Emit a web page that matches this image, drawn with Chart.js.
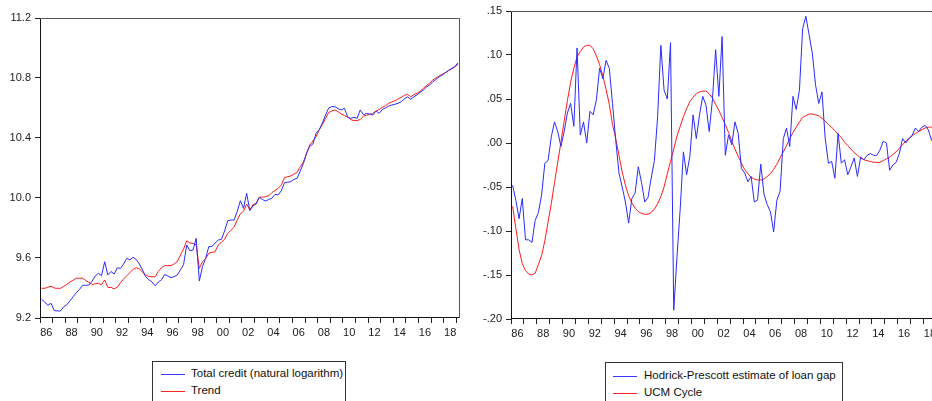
<!DOCTYPE html>
<html>
<head>
<meta charset="utf-8">
<script src="https://cdn.jsdelivr.net/npm/chart.js@4.4.1/dist/chart.umd.min.js"></script>
<style>
  html, body { margin: 0; padding: 0; width: 932px; height: 401px; overflow: hidden; background: #fff; }
  canvas { position: absolute; top: 0; }
  #creditChart { left: 0; }
  #gapChart { left: 466px; }
  .legend { position: absolute; border: 1px solid #333; background: #fff; }
  .legend .row { position: absolute; height: 14px; line-height: 14px; white-space: nowrap;
                 font: 11.5px "Liberation Sans", Arial, sans-serif; color: #111; }
  .legend .swatch { position: absolute; top: 7px; width: 24px; height: 0; border-top: 1px solid; }
  .legend .label { position: absolute; top: 0; }
</style>
</head>
<body>
<canvas id="creditChart" width="466" height="345"></canvas>
<canvas id="gapChart" width="480" height="345"></canvas>

<div class="legend" style="left:152px; top:361px; width:192px; height:60px;">
  <div class="row" style="left:8px; top:5px;"><span class="swatch" style="border-color:#3a3aff;"></span><span class="label" style="left:30px;">Total credit (natural logarithm)</span></div>
  <div class="row" style="left:8px; top:22px;"><span class="swatch" style="border-color:#ff2020;"></span><span class="label" style="left:30px;">Trend</span></div>
</div>
<div class="legend" style="left:605px; top:362px; width:236px; height:60px;">
  <div class="row" style="left:7px; top:6px;"><span class="swatch" style="border-color:#3a3aff;"></span><span class="label" style="left:31px;">Hodrick-Prescott estimate of loan gap</span></div>
  <div class="row" style="left:7px; top:23px;"><span class="swatch" style="border-color:#ff2020;"></span><span class="label" style="left:31px;">UCM Cycle</span></div>
</div>

<script>
// Quarterly sample: 1986Q1 .. 2019Q1
const firstYear = 1986;
const quarters = [];
for (let y = firstYear; y <= 2019; y++) {
  for (let q = 1; q <= 4; q++) {
    if (y === 2019 && q > 1) break;
    quarters.push(y + 'Q' + q);
  }
}

// Total credit, natural logarithm
const totalCredit = [
  9.325, 9.305, 9.285, 9.298,   9.250, 9.247, 9.247, 9.275,
  9.288, 9.315, 9.342, 9.368,   9.390, 9.418, 9.418, 9.420,
  9.445, 9.480, 9.498, 9.482,   9.575, 9.487, 9.510, 9.493,
  9.535, 9.530, 9.560, 9.598,   9.587, 9.605, 9.590, 9.560,
  9.520, 9.475, 9.455, 9.440,   9.415, 9.440, 9.455, 9.490,
  9.480, 9.469, 9.475, 9.487,   9.520, 9.555, 9.687, 9.649,
  9.653, 9.731, 9.447, 9.542,   9.598, 9.676, 9.676, 9.700,
  9.720, 9.724, 9.780, 9.849,   9.853, 9.853, 9.909, 9.982,
  9.931, 10.031, 9.916, 9.947,  9.960, 10.005, 9.990, 9.980,
  9.990, 9.998, 10.024, 10.020, 10.049, 10.102, 10.105, 10.109,
  10.125, 10.131, 10.180, 10.231, 10.300, 10.345, 10.360, 10.431,
  10.455, 10.500, 10.553, 10.600, 10.609, 10.609, 10.595, 10.587,
  10.598, 10.540, 10.531, 10.538, 10.531, 10.587, 10.555, 10.564,
  10.560, 10.553, 10.580, 10.564, 10.590, 10.600, 10.613, 10.620,
  10.625, 10.631, 10.642, 10.660, 10.675, 10.658, 10.675, 10.687,
  10.705, 10.720, 10.740, 10.753, 10.775, 10.790, 10.809, 10.820,
  10.836, 10.850, 10.864, 10.876, 10.902
];

// Trend of total credit
const creditTrend = [
  9.398, 9.398, 9.405, 9.412,   9.400, 9.398, 9.398, 9.410,
  9.424, 9.440, 9.452, 9.465,   9.465, 9.465, 9.450, 9.438,
  9.424, 9.428, 9.431, 9.422,   9.453, 9.404, 9.404, 9.395,
  9.405, 9.435, 9.460, 9.482,   9.502, 9.525, 9.535, 9.528,
  9.505, 9.487, 9.477, 9.475,   9.475, 9.510, 9.535, 9.549,
  9.549, 9.549, 9.560, 9.575,   9.620, 9.660, 9.715, 9.700,
  9.698, 9.687, 9.531, 9.575,   9.595, 9.631, 9.638, 9.642,
  9.687, 9.705, 9.725, 9.764,   9.785, 9.805, 9.853, 9.895,
  9.912, 9.960, 9.920, 9.955,   9.965, 10.005, 10.006, 10.009,
  10.015, 10.036, 10.050, 10.064, 10.087, 10.136, 10.142, 10.147,
  10.160, 10.171, 10.210, 10.240, 10.298, 10.353, 10.380, 10.409,
  10.455, 10.490, 10.531, 10.570, 10.580, 10.587, 10.575, 10.560,
  10.550, 10.540, 10.522, 10.516, 10.516, 10.524, 10.545, 10.553,
  10.556, 10.565, 10.580, 10.590, 10.604, 10.615, 10.631, 10.640,
  10.649, 10.660, 10.671, 10.685, 10.691, 10.675, 10.690, 10.698,
  10.712, 10.731, 10.750, 10.765, 10.787, 10.800, 10.813, 10.825,
  10.836, 10.850, 10.860, 10.875, 10.891
];

// Hodrick-Prescott estimate of the loan gap
const hpLoanGap = [
  -0.048, -0.065, -0.086, -0.063,  -0.110, -0.110, -0.113, -0.088,
  -0.079, -0.059, -0.023, -0.020,   0.007,  0.024,  0.013, -0.004,
   0.013,  0.034,  0.045,  0.019,   0.108,  0.009,  0.024,  0.000,
   0.036,  0.032,  0.049,  0.085,   0.073,  0.094,  0.085,  0.045,
   0.003, -0.034, -0.050, -0.067,  -0.091, -0.063, -0.057, -0.027,
  -0.045, -0.067, -0.062, -0.040,  -0.020,  0.030,  0.111,  0.060,
   0.050,  0.114, -0.190, -0.130,  -0.075, -0.010, -0.036, -0.015,
   0.032,  0.005,  0.032,  0.053,   0.043,  0.013,  0.049,  0.106,
   0.053,  0.121, -0.014,  0.009,  -0.002,  0.024,  0.011, -0.029,
  -0.034, -0.044, -0.038, -0.067,  -0.065, -0.024, -0.058, -0.070,
  -0.078, -0.101, -0.065, -0.055,   0.005,  0.017, -0.004,  0.053,
   0.038,  0.060,  0.130,  0.144,   0.123,  0.102,  0.066,  0.045,
   0.058,  0.005, -0.023, -0.021,  -0.040,  0.011, -0.023, -0.019,
  -0.036, -0.027, -0.017, -0.038,  -0.016, -0.019, -0.014, -0.012,
  -0.014, -0.014, -0.008,  0.002,   0.000, -0.031, -0.025, -0.022,
  -0.012,  0.005,  0.000,  0.005,   0.009,  0.017,  0.013,  0.018,
   0.020,  0.015,  0.003,  0.015,   0.018
];

// Cycle from the unobserved components model
const ucmCycle = [
  -0.072, -0.097, -0.121, -0.137,  -0.145, -0.149, -0.150, -0.148,
  -0.138, -0.128, -0.111, -0.090,  -0.069, -0.045, -0.022,  0.001,
   0.025,  0.048,  0.069,  0.085,   0.098,  0.104,  0.109,  0.111,
   0.111,  0.107,  0.099,  0.089,   0.076,  0.061,  0.044,  0.021,
   0.005, -0.014, -0.033, -0.048,  -0.060, -0.068, -0.074, -0.078,
  -0.080, -0.081, -0.081, -0.079,  -0.075, -0.069, -0.061, -0.050,
  -0.035, -0.021, -0.007,  0.008,   0.019,  0.030,  0.039,  0.047,
   0.052,  0.056,  0.058,  0.059,   0.059,  0.056,  0.051,  0.044,
   0.037,  0.029,  0.021,  0.012,   0.002, -0.007, -0.015, -0.023,
  -0.030, -0.035, -0.039, -0.041,  -0.042, -0.042, -0.041, -0.038,
  -0.035, -0.030, -0.024, -0.017,  -0.010, -0.003,  0.005,  0.012,
   0.018,  0.024,  0.029,  0.031,   0.033,  0.033,  0.032,  0.031,
   0.028,  0.025,  0.021,  0.018,   0.014,  0.010,  0.006,  0.001,
  -0.003, -0.007, -0.011, -0.014,  -0.017, -0.019, -0.020, -0.021,
  -0.022, -0.022, -0.022, -0.020,  -0.018, -0.016, -0.013, -0.010,
  -0.006, -0.002,  0.002,  0.005,   0.008,  0.011,  0.013,  0.015,
   0.017,  0.018,  0.018,  0.018,   0.018
];

// Value-axis tick settings
const creditTicks = { min: 9.2, max: 11.2, step: 0.4 };
const gapTicks = { min: -0.20, max: 0.15, step: 0.05 };

// Each quarter is placed in the middle of its three months
function quarterTime(label) {
  const [y, q] = label.split('Q').map(Number);
  return y + (q - 1) / 4 + 0.125;
}
const obsTime = quarters.map(quarterTime);

const tickFont = { family: '"Liberation Sans", Arial, sans-serif', size: 11 };
const BLUE = '#2a2aff';
const RED = '#ff1a1a';

const framePlugin = {
  id: 'frame',
  afterDatasetsDraw(chart) {
    const { ctx, chartArea: a } = chart;
    const l = Math.round(a.left) + 0.5, r = Math.round(a.right) - 0.5;
    const t = Math.round(a.top) + 0.5, b = Math.round(a.bottom) - 0.5;
    ctx.save();
    ctx.lineWidth = 1;
    ctx.strokeStyle = '#555';
    ctx.beginPath();
    ctx.moveTo(l, t); ctx.lineTo(r, t); ctx.lineTo(r, b);
    ctx.stroke();
    ctx.strokeStyle = '#111';
    ctx.beginPath();
    ctx.moveTo(l, t); ctx.lineTo(l, b + 0.5);
    ctx.moveTo(l, b); ctx.lineTo(r, b);
    ctx.stroke();
    ctx.restore();
  }
};

function buildChart(canvasId, opt) {
  const datasets = opt.series.map(s => ({
    data: s.values.map((v, i) => ({ x: obsTime[i], y: v })),
    borderColor: s.color,
    borderWidth: 1,
    pointRadius: 0,
    fill: false,
    tension: 0
  }));
  return new Chart(document.getElementById(canvasId), {
    type: 'line',
    data: { datasets },
    plugins: [framePlugin],
    options: {
      responsive: false,
      animation: false,
      devicePixelRatio: 1,
      layout: { padding: opt.padding },
      plugins: { legend: { display: false }, tooltip: { enabled: false } },
      scales: {
        x: {
          type: 'linear',
          min: 1986,
          max: 2019.28,
          afterFit(scale) { scale.height = opt.xAxisHeight; },
          border: { display: false },
          grid: { drawOnChartArea: false, drawTicks: true, tickLength: 5, color: '#222' },
          ticks: {
            stepSize: 1,
            includeBounds: false,
            autoSkip: false,
            maxRotation: 0,
            minRotation: 0,
            labelOffset: opt.labelOffset,
            padding: 3,
            color: '#1a1a1a',
            font: tickFont,
            callback: v => {
              const yr = Math.round(v);
              return yr % 2 === 0 ? String(yr).slice(2) : '';
            }
          }
        },
        y: {
          type: 'linear',
          min: opt.ticks.min,
          max: opt.ticks.max,
          afterFit(scale) { scale.width = opt.yAxisWidth; },
          border: { display: false },
          grid: { drawOnChartArea: false, drawTicks: true, tickLength: 5, color: '#222' },
          ticks: {
            stepSize: opt.ticks.step,
            includeBounds: false,
            padding: 4,
            color: '#1a1a1a',
            font: tickFont,
            callback: opt.format
          }
        }
      }
    }
  });
}

buildChart('creditChart', {
  series: [
    { values: totalCredit, color: BLUE },
    { values: creditTrend, color: RED }
  ],
  ticks: creditTicks,
  format: v => v.toFixed(1),
  padding: { top: 18, right: 6, left: 0, bottom: 0 },
  yAxisWidth: 40,
  xAxisHeight: 27,
  labelOffset: 6.3
});

buildChart('gapChart', {
  series: [
    { values: hpLoanGap, color: BLUE },
    { values: ucmCycle, color: RED }
  ],
  ticks: gapTicks,
  format: v => {
    const s = (Math.round(v * 100) / 100).toFixed(2);
    return s.replace(/^(-?)0\./, '$1.');
  },
  padding: { top: 11, right: 6, left: 0, bottom: 0 },
  yAxisWidth: 45,
  xAxisHeight: 26,
  labelOffset: 6.4
});
</script>
</body>
</html>
